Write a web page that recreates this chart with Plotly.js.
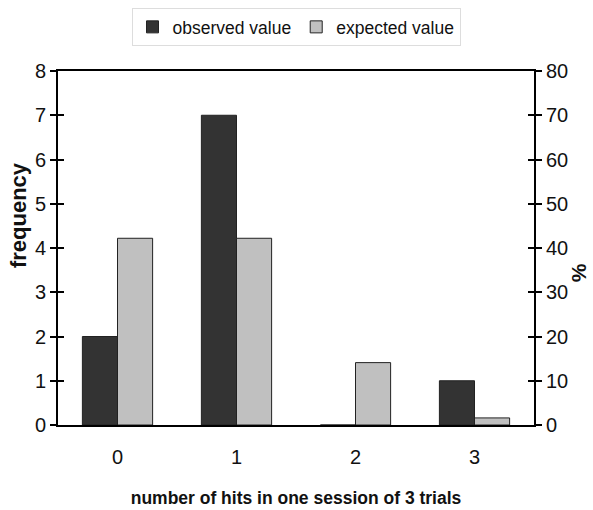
<!DOCTYPE html>
<html><head><meta charset="utf-8">
<script src="https://cdn.plot.ly/plotly-3.0.1.min.js"></script>
<style>html,body{margin:0;padding:0;background:#fff}</style>
</head><body>
<div id="chart" style="width:593px;height:510px"></div>
<script>
const categories = ["0", "1", "2", "3"];
const observed = [2, 7, 0, 1];
const expected = [4.22, 4.22, 1.41, 0.16];
const leftTicks = [0, 1, 2, 3, 4, 5, 6, 7, 8];
const rightTicks = [0, 10, 20, 30, 40, 50, 60, 70, 80];

const fam = "Liberation Sans, Arial, sans-serif";
const traces = [
  {type: "bar", x: categories, y: observed, name: "observed value",
   marker: {color: "#333333", line: {color: "#222", width: 1}}},
  {type: "bar", x: categories, y: expected, name: "expected value",
   marker: {color: "#c0c0c0", line: {color: "#222", width: 1}}},
  {type: "bar", x: categories, y: [null, null, null, null], yaxis: "y2",
   showlegend: false, hoverinfo: "skip"},
  {type: "bar", x: categories, y: [null, null, null, null], yaxis: "y3",
   showlegend: false, hoverinfo: "skip"},
  {type: "bar", x: categories, y: [null, null, null, null], yaxis: "y4",
   showlegend: false, hoverinfo: "skip"}
];
const tickFont = {family: fam, size: 20, color: "#111"};
const layout = {
  width: 593, height: 510,
  margin: {l: 58, r: 59, t: 71, b: 85, autoexpand: false},
  paper_bgcolor: "#fff", plot_bgcolor: "#fff",
  font: {family: fam, size: 18, color: "#111"},
  barmode: "group", bargap: 0.41, bargroupgap: 0,
  showlegend: true,
  legend: {orientation: "h", x: 0.5, xanchor: "center", y: 1.178, yanchor: "top",
           xref: "paper", yref: "paper",
           bordercolor: "#dddddd", borderwidth: 1,
           font: {family: fam, size: 17.5, color: "#111"},
           itemwidth: 30, tracegroupgap: 0},
  xaxis: {range: [-0.5, 3.5], showline: true, linecolor: "#000", linewidth: 2,
          mirror: true, ticks: "", showgrid: false, zeroline: false,
          tickfont: tickFont, ticklabelstandoff: 13,
          title: {text: "<b>number of hits in one session of 3 trials</b>",
                  font: {family: fam, size: 17.5, color: "#111"}, standoff: 25}},
  yaxis: {range: [0, 8], tickvals: leftTicks, showline: true, linecolor: "#000", linewidth: 2,
          ticks: "outside", ticklen: 6, tickwidth: 2, tickcolor: "#000",
          showgrid: false, zeroline: false, tickfont: tickFont},
  yaxis2: {range: [0, 80], tickvals: rightTicks, overlaying: "y", side: "right",
           showline: true, linecolor: "#000", linewidth: 2,
           ticks: "outside", ticklen: 6, tickwidth: 2, tickcolor: "#000",
           showgrid: false, zeroline: false, tickfont: tickFont},
  yaxis3: {range: [0, 8], tickvals: leftTicks, overlaying: "y", side: "left",
           showticklabels: false, ticks: "inside", ticklen: 6, tickwidth: 2, tickcolor: "#000",
           showgrid: false, zeroline: false, showline: false},
  yaxis4: {range: [0, 80], tickvals: rightTicks, overlaying: "y", side: "right",
           showticklabels: false, ticks: "inside", ticklen: 6, tickwidth: 2, tickcolor: "#000",
           showgrid: false, zeroline: false, showline: false},
  annotations: [
    {text: "<b>frequency</b>", xref: "paper", yref: "paper", x: 0, y: 0.593,
     xanchor: "center", yanchor: "middle", xshift: -40, textangle: -90, showarrow: false,
     font: {family: fam, size: 22, color: "#111"}},
    {text: "<b>%</b>", xref: "paper", yref: "paper", x: 1, y: 0.429,
     xanchor: "center", yanchor: "middle", xshift: 44, textangle: -90, showarrow: false,
     font: {family: fam, size: 21, color: "#111"}}
  ]
};
Plotly.newPlot("chart", traces, layout, {displayModeBar: false, staticPlot: true});
</script>
</body></html>
